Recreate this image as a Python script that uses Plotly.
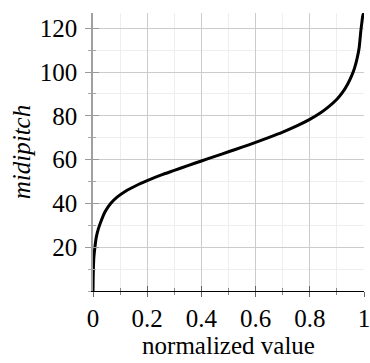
import plotly.graph_objects as go

# data
norm_value = [0, 0.001, 0.003, 0.007, 0.012, 0.02, 0.03, 0.045, 0.065, 0.09, 0.12,
              0.16, 0.2, 0.25, 0.3, 0.35, 0.4, 0.45, 0.5, 0.55, 0.6, 0.65, 0.7,
              0.75, 0.8, 0.84, 0.87, 0.9, 0.92, 0.94, 0.955, 0.965, 0.975, 0.982,
              0.988, 0.992, 0.996, 1]
midipitch = [0, 8, 15, 20, 24.5, 28.5, 32, 36.3, 40, 43, 45.6,
             48.2, 50.4, 52.9, 55.1, 57.3, 59.4, 61.5, 63.6, 65.7, 67.9, 70.2, 72.6,
             75.3, 78.4, 81.4, 84.2, 87.6, 90.6, 94.6, 98.5, 101.8, 106.5, 111,
             118.5, 122.5, 126, 127]

x_ticks = [0, 0.2, 0.4, 0.6, 0.8, 1]
x_ticktext = ["0", "0.2", "0.4", "0.6", "0.8", "1"]
y_ticks = [20, 40, 60, 80, 100, 120]
y_ticktext = ["20", "40", "60", "80", "100", "120"]

FONT = "Liberation Serif, serif"

fig = go.Figure()
fig.add_trace(go.Scatter(x=norm_value, y=midipitch, mode="lines",
                         line=dict(color="black", width=3, shape="spline", smoothing=0.8),
                         hoverinfo="skip", showlegend=False, cliponaxis=False))
# invisible trace for overlay axes (inside ticks)
fig.add_trace(go.Scatter(x=norm_value, y=midipitch, mode="lines",
                         line=dict(color="rgba(0,0,0,0)", width=0),
                         xaxis="x2", yaxis="y2", hoverinfo="skip", showlegend=False))

fig.update_layout(
    width=370, height=363,
    margin=dict(l=93, r=0, t=13, b=72),
    paper_bgcolor="white", plot_bgcolor="white",
    font=dict(family=FONT, size=25, color="black"),
    showlegend=False,
    xaxis=dict(
        range=[0, 1], tickvals=x_ticks, ticktext=x_ticktext,
        showgrid=True, gridcolor="#cccccc", gridwidth=1,
        zeroline=False, showline=True, linecolor="black", linewidth=1.3,
        ticks="outside", ticklen=5, tickcolor="#666666", tickwidth=1,
        ticklabelstandoff=0, ticklabeloverflow="allow",
        minor=dict(dtick=0.1, tick0=0, showgrid=True, gridcolor="#eeeeee", gridwidth=1,
                   ticks="outside", ticklen=3, tickcolor="#888888", tickwidth=1),
        title=dict(text="normalized value", standoff=3, font=dict(size=25)),
        layer="above traces", fixedrange=True,
    ),
    yaxis=dict(
        range=[0, 127], tickvals=y_ticks, ticktext=y_ticktext,
        showgrid=True, gridcolor="#cccccc", gridwidth=1,
        zeroline=False, showline=True, linecolor="#a0a0a0", linewidth=1.5,
        ticks="outside", ticklen=6, tickcolor="#999999", tickwidth=1,
        ticklabelstandoff=3, ticklabeloverflow="allow",
        minor=dict(dtick=10, tick0=0, showgrid=True, gridcolor="#eeeeee", gridwidth=1,
                   ticks="outside", ticklen=3, tickcolor="#aaaaaa", tickwidth=1),
        title=dict(text="<i>midipitch</i>", standoff=2, font=dict(size=25)),
        layer="below traces", fixedrange=True,
    ),
    xaxis2=dict(
        overlaying="x", matches="x", anchor="y", range=[0, 1],
        tickvals=x_ticks, showticklabels=False, showgrid=False, showline=False,
        zeroline=False,
        ticks="inside", ticklen=5, tickcolor="#666666", tickwidth=1,
        minor=dict(dtick=0.1, tick0=0, showgrid=False,
                   ticks="inside", ticklen=3, tickcolor="#888888", tickwidth=1),
        fixedrange=True,
    ),
    yaxis2=dict(
        overlaying="y", matches="y", anchor="x", side="left", range=[0, 127],
        tickvals=y_ticks, showticklabels=False, showgrid=False, showline=False,
        zeroline=False,
        ticks="inside", ticklen=6, tickcolor="#999999", tickwidth=1,
        minor=dict(dtick=10, tick0=0, showgrid=False,
                   ticks="inside", ticklen=3, tickcolor="#aaaaaa", tickwidth=1),
        fixedrange=True,
    ),
)

fig.write_html("out.html", config={"displayModeBar": False},
               post_script="document.body.style.margin='0';document.body.style.overflow='hidden';")
